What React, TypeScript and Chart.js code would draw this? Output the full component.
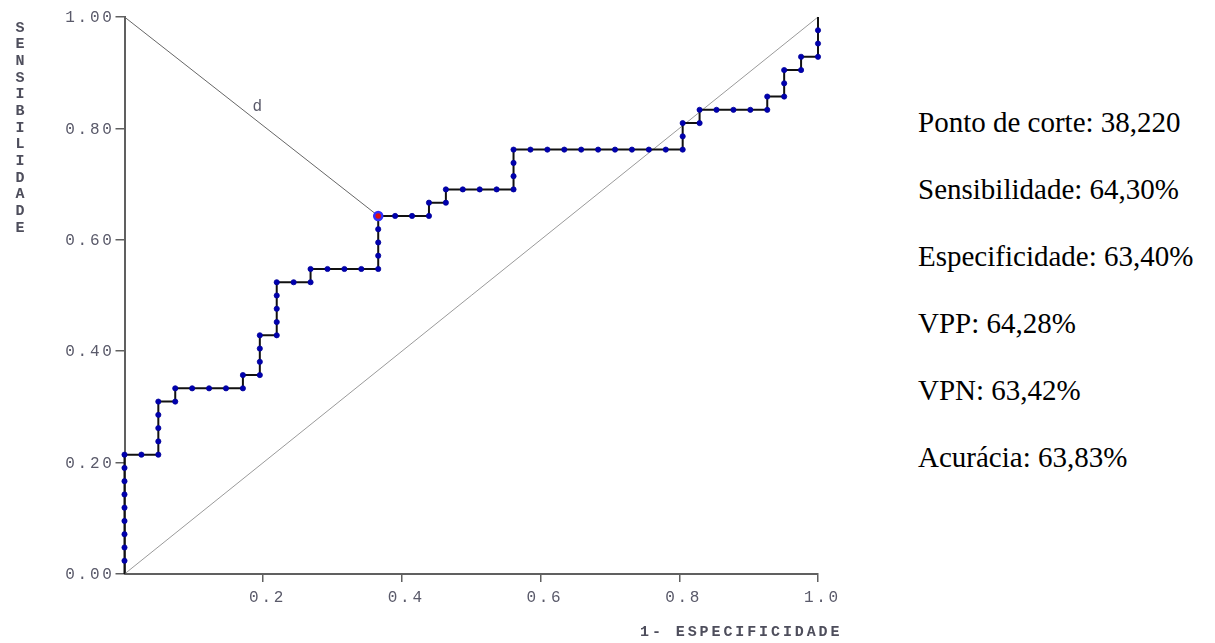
import React, { useEffect, useRef } from "react";
import { Chart, registerables } from "chart.js";

Chart.register(...registerables);

// Totals read from the statistics (27/42 = 64.3%, 26/41 = 63.4%)
const NEGATIVES = 41;
const POSITIVES = 42;

const falsePositiveCounts = [
  0, 0, 0, 0, 0, 0, 0, 0, 0, 0,
  1, 2,
  2, 2, 2, 2,
  3,
  3, 4, 5, 6, 7,
  7, 8,
  8, 8, 8,
  9,
  9, 9, 9, 9,
  10, 11,
  11, 12, 13, 14, 15,
  15, 15, 15, 15,
  16, 17, 18,
  18, 19,
  19, 20, 21, 22, 23,
  23, 23, 23,
  24, 25, 26, 27, 28, 29, 30, 31, 32, 33,
  33, 33,
  34,
  34, 35, 36, 37, 38,
  38, 39,
  39, 39,
  40,
  40, 41,
  41, 41, 41,
];
const truePositiveCounts = [
  0, 1, 2, 3, 4, 5, 6, 7, 8, 9,
  9, 9,
  10, 11, 12, 13,
  13,
  14, 14, 14, 14, 14,
  15, 15,
  16, 17, 18,
  18,
  19, 20, 21, 22,
  22, 22,
  23, 23, 23, 23, 23,
  24, 25, 26, 27,
  27, 27, 27,
  28, 28,
  29, 29, 29, 29, 29,
  30, 31, 32,
  32, 32, 32, 32, 32, 32, 32, 32, 32, 32,
  33, 34,
  34,
  35, 35, 35, 35, 35,
  36, 36,
  37, 38,
  38,
  39, 39,
  40, 41, 42,
];

const cutoffFalsePositives = 15;
const cutoffTruePositives = 27;

const xTickValues = [0.2, 0.4, 0.6, 0.8, 1.0];
const xTickLabels = ["0.2", "0.4", "0.6", "0.8", "1.0"];
const yTickValues = [0, 0.2, 0.4, 0.6, 0.8, 1.0];
const yTickLabels = ["0.00", "0.20", "0.40", "0.60", "0.80", "1.00"];

const xAxisTitle = "1- ESPECIFICIDADE";
const yAxisTitle = "SENSIBILIDADE";
const distanceLabel = "d";

const statsLines = [
  "Ponto de corte: 38,220",
  "Sensibilidade: 64,30%",
  "Especificidade: 63,40%",
  "VPP: 64,28%",
  "VPN: 63,42%",
  "Acurácia: 63,83%",
];

const MONO = '"Liberation Mono", "Courier New", monospace';
const LABEL_COLOR = "#5a5a6a";

function drawSpaced(ctx: CanvasRenderingContext2D, text: string, firstCenterX: number, cy: number, pitch: number) {
  for (let i = 0; i < text.length; i++) {
    ctx.fillText(text[i], firstCenterX + i * pitch, cy);
  }
}

const textPlugin = {
  id: "rocText",
  afterDraw(chart: any) {
    const ctx: CanvasRenderingContext2D = chart.ctx;
    const xs = chart.scales.x;
    const ys = chart.scales.y;
    ctx.save();
    ctx.fillStyle = LABEL_COLOR;
    ctx.textAlign = "center";
    ctx.textBaseline = "middle";

    // y tick labels (right aligned, spaced monospace)
    ctx.font = `16px ${MONO}`;
    const pitch = 12.3;
    yTickValues.forEach((v, k) => {
      const label = yTickLabels[k];
      const y = ys.getPixelForValue(v) + 1;
      const lastCenter = xs.left - 17.5;
      drawSpaced(ctx, label, lastCenter - (label.length - 1) * pitch, y, pitch);
    });

    // x tick labels
    xTickValues.forEach((v, k) => {
      const label = xTickLabels[k];
      const x = xs.getPixelForValue(v) + 3;
      drawSpaced(ctx, label, x - ((label.length - 1) * pitch) / 2, ys.bottom + 24, pitch);
    });

    // axis titles
    ctx.fillStyle = "#4e4e5c";
    ctx.font = `bold 15px ${MONO}`;
    const tPitch = 11.9;
    const lastCenter = xs.right + 17;
    drawSpaced(ctx, xAxisTitle, lastCenter - (xAxisTitle.length - 1) * tPitch, ys.bottom + 58, tPitch);

    for (let i = 0; i < yAxisTitle.length; i++) {
      ctx.fillText(yAxisTitle[i], 20, ys.top + 11 + i * 16.67);
    }

    // distance label
    ctx.fillStyle = LABEL_COLOR;
    ctx.font = `16px ${MONO}`;
    const mx = (xs.getPixelForValue(0) + xs.getPixelForValue(cutoffFalsePositives / NEGATIVES)) / 2;
    const my = (ys.getPixelForValue(1) + ys.getPixelForValue(cutoffTruePositives / POSITIVES)) / 2;
    ctx.fillText(distanceLabel, mx + 6, my - 10);
    ctx.restore();
  },
};

export default function App() {
  const canvasRef = useRef<HTMLCanvasElement | null>(null);

  useEffect(() => {
    if (!canvasRef.current) return;
    const rocPoints = falsePositiveCounts.map((fp, i) => ({
      x: fp / NEGATIVES,
      y: truePositiveCounts[i] / POSITIVES,
    }));
    const lastIndex = rocPoints.length - 1;
    const cutoff = { x: cutoffFalsePositives / NEGATIVES, y: cutoffTruePositives / POSITIVES };

    const chart = new Chart(canvasRef.current, {
      type: "scatter",
      data: {
        datasets: [
          {
            data: [cutoff],
            showLine: false,
            pointRadius: 4,
            pointBackgroundColor: "#e01010",
            pointBorderColor: "#2f2fff",
            pointBorderWidth: 2.5,
            clip: false,
          },
          {
            data: rocPoints,
            showLine: true,
            borderColor: "#111111",
            borderWidth: 2,
            pointRadius: (c: any) => (c.dataIndex === 0 || c.dataIndex === lastIndex ? 0 : 2.6),
            pointBackgroundColor: "#0000b0",
            pointBorderColor: "#00009a",
            pointBorderWidth: 0.8,
            clip: false,
          },
          {
            data: [{ x: 0, y: 1 }, cutoff],
            showLine: true,
            borderColor: "#666666",
            borderWidth: 1,
            pointRadius: 0,
            clip: false,
          },
          {
            data: [{ x: 0, y: 0 }, { x: 1, y: 1 }],
            showLine: true,
            borderColor: "#9a9a9a",
            borderWidth: 1,
            pointRadius: 0,
            clip: false,
          },
        ],
      },
      options: {
        animation: false,
        responsive: false,
        devicePixelRatio: 1,
        events: [],
        layout: { padding: { left: 0, right: 82, top: 17, bottom: 39 } },
        plugins: { legend: { display: false }, tooltip: { enabled: false }, title: { display: false } },
        scales: {
          x: {
            type: "linear",
            min: 0,
            max: 1,
            ticks: { stepSize: 0.2, color: "transparent", font: { size: 8 } },
            grid: {
              drawOnChartArea: false,
              drawTicks: true,
              tickLength: 8,
              color: (c: any) => (c.tick && c.tick.value === 0 ? "transparent" : "#606060"),
              lineWidth: 1.5,
            },
            border: { display: true, color: "#606060", width: 2 },
            afterFit: (s: any) => {
              s.height = 30;
            },
          },
          y: {
            type: "linear",
            min: 0,
            max: 1,
            ticks: { stepSize: 0.2, color: "transparent", font: { size: 8 } },
            grid: {
              drawOnChartArea: false,
              drawTicks: true,
              tickLength: 9,
              color: "#606060",
              lineWidth: 1.5,
            },
            border: { display: true, color: "#606060", width: 2 },
            afterFit: (s: any) => {
              s.width = 124.5;
            },
          },
        },
      },
      plugins: [textPlugin],
    } as any);
    return () => chart.destroy();
  }, []);

  const baselines = [132, 199, 266, 333, 400, 467];

  return (
    <div style={{ position: "fixed", left: 0, top: 0, width: 1215, height: 643, background: "#fff", overflow: "hidden" }}>
      <canvas ref={canvasRef} width={900} height={643} style={{ position: "absolute", left: 0, top: 0, width: 900, height: 643 }} />
      {statsLines.map((line, i) => (
        <div
          key={i}
          style={{
            position: "absolute",
            left: 918,
            top: baselines[i] - 26,
            fontFamily: '"Liberation Serif", "Times New Roman", serif',
            fontSize: 29,
            color: "#000",
            whiteSpace: "nowrap",
          }}
        >
          {line}
        </div>
      ))}
    </div>
  );
}
